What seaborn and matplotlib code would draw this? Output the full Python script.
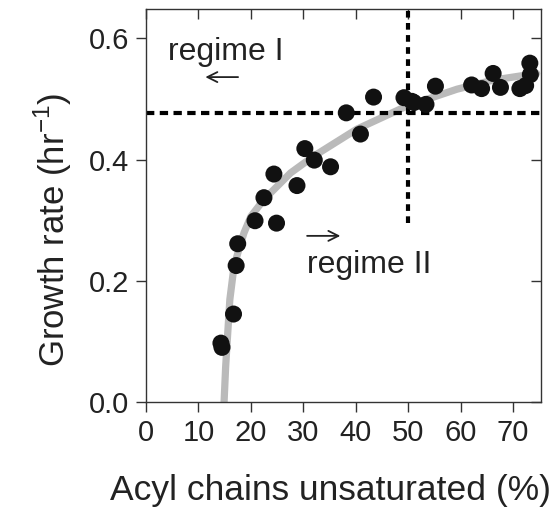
import matplotlib
matplotlib.use("Agg")
import matplotlib.pyplot as plt
import seaborn as sns
import pandas as pd

# measured data points
acyl_pct = [14.3, 14.5, 16.7, 17.2, 17.5, 20.8, 24.9, 22.5, 24.4, 28.8, 30.3, 32.1,
            35.2, 38.2, 40.9, 43.4, 49.2, 50.7, 51.1, 53.4, 55.2, 62.1, 64.0, 66.2,
            67.6, 71.3, 72.4, 73.2, 73.3]
growth_rate = [0.097, 0.090, 0.145, 0.225, 0.261, 0.299, 0.295, 0.337, 0.376, 0.357,
               0.418, 0.399, 0.388, 0.477, 0.442, 0.503, 0.502, 0.496, 0.494, 0.491,
               0.521, 0.523, 0.517, 0.542, 0.519, 0.517, 0.522, 0.559, 0.540]

# fitted curve
fit_x = [14.9, 15.2, 15.6, 16.0, 16.8, 17.7, 18.7, 20.0, 22.5, 27.6, 31.9, 40.2,
         49.7, 59.3, 66.2, 74.5]
fit_y = [0.0, 0.058, 0.114, 0.169, 0.224, 0.251, 0.279, 0.306, 0.334, 0.378, 0.405,
         0.450, 0.488, 0.516, 0.531, 0.542]

threshold_rate = 0.477
threshold_acyl = 50.0
vline_bottom = 0.295

x_ticks = [0, 10, 20, 30, 40, 50, 60, 70]
y_ticks = [0.0, 0.2, 0.4, 0.6]

sns.set_style("ticks")
plt.rcParams["font.family"] = ["Liberation Sans", "DejaVu Sans"]

fig = plt.figure(figsize=(5.57, 5.12), dpi=100)
ax = fig.add_axes([0.262, 0.215, 0.709, 0.767])

df_pts = pd.DataFrame({"x": acyl_pct, "y": growth_rate})
df_fit = pd.DataFrame({"x": fit_x, "y": fit_y})

sns.lineplot(data=df_fit, x="x", y="y", ax=ax, color="#bababa", lw=5.2, sort=False,
             zorder=1)
ax.axhline(threshold_rate, color="black", lw=3.0, dashes=(2, 1.3), zorder=2)
ax.plot([threshold_acyl, threshold_acyl], [vline_bottom, 0.7], color="black", lw=3.0,
        dashes=(1.6, 1.3), zorder=2)
sns.scatterplot(data=df_pts, x="x", y="y", ax=ax, color="#111111", s=150,
                edgecolor="none", zorder=3)

ax.text(4.2, 0.565, "regime I", fontsize=23, va="baseline", ha="left", color="#222222")
ax.text(30.8, 0.213, "regime II", fontsize=23, va="baseline", ha="left", color="#222222")
ax.annotate("", xy=(10.8, 0.536), xytext=(18.1, 0.536),
            arrowprops=dict(arrowstyle="->", lw=1.3, color="#222222",
                            mutation_scale=18))
ax.annotate("", xy=(37.6, 0.274), xytext=(30.2, 0.274),
            arrowprops=dict(arrowstyle="->", lw=1.3, color="#222222",
                            mutation_scale=18))

ax.set_xlim(0, 75.3)
ax.set_ylim(0, 0.648)
ax.set_xticks(x_ticks)
ax.set_yticks(y_ticks)
ax.set_yticklabels(["0.0", "0.2", "0.4", "0.6"])
ax.set_xlabel("Acyl chains unsaturated (%)", fontsize=25.5, color="#222222")
ax.set_ylabel("Growth rate (hr$^{\\mathregular{-1}}$)", fontsize=25, color="#222222")
ax.xaxis.set_label_coords(0.468, -0.226)
ax.yaxis.set_label_coords(-0.235, 0.438)
ax.xaxis.label.set_va("center")
ax.yaxis.label.set_va("center")

for s in ax.spines.values():
    s.set_visible(True)
    s.set_linewidth(1.0)
    s.set_color("#333333")

ax.tick_params(axis="both", which="major", labelsize=21, direction="out", length=7,
               width=1.0, colors="#333333", labelcolor="#222222", pad=5)
ax.tick_params(top=True, right=True, labeltop=False, labelright=False)
# top/right ticks point inward
for t in ax.xaxis.get_major_ticks():
    t.tick2line.set_marker(matplotlib.lines.TICKDOWN)
for t in ax.yaxis.get_major_ticks():
    t.tick2line.set_marker(matplotlib.lines.TICKLEFT)

fig.savefig("out.png", dpi=100)
